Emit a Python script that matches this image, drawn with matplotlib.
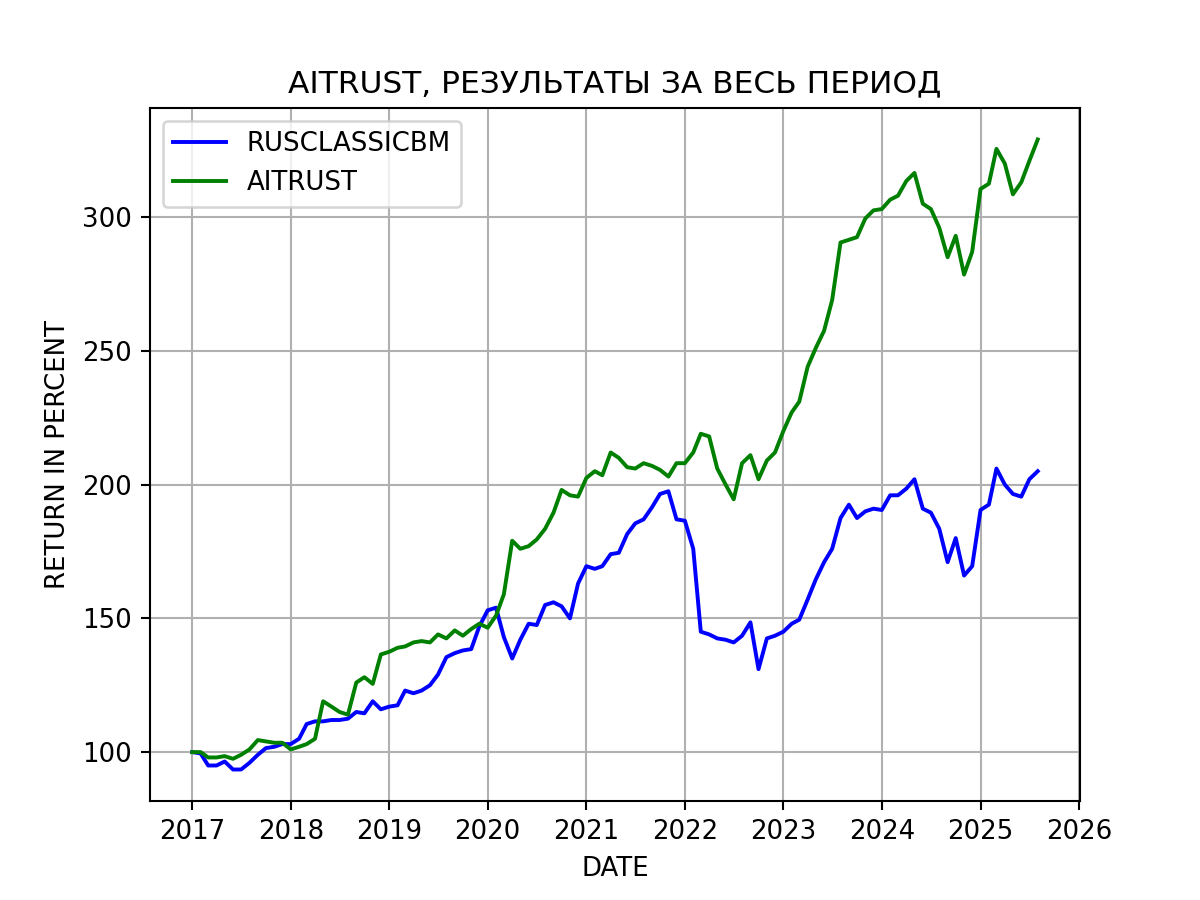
import matplotlib
matplotlib.use("Agg")
import matplotlib.pyplot as plt
import pandas as pd

dates = pd.date_range("2017-01-01", periods=104, freq="MS")

ruclassic = [
    100, 99.5, 95, 95, 96.5, 93.5, 93.5, 96, 99, 101.5, 102, 103,
    103, 105, 110.5, 111.5, 111.5, 112, 112, 112.5, 115, 114.5, 119, 116,
    117, 117.5, 123, 122, 123, 125, 129, 135.5, 137, 138, 138.5, 147,
    153, 154, 143, 135, 142, 148, 147.5, 155, 156, 154.5, 150, 163,
    169.5, 168.5, 169.5, 174, 174.5, 181.5, 185.5, 187, 191.5, 196.5, 197.5, 187,
    186.5, 176, 145, 144, 142.5, 142, 141, 143.5, 148.5, 131, 142.5, 143.5,
    145, 148, 149.5, 157, 164.5, 171, 176, 187.5, 192.5, 187.5, 190, 191,
    190.5, 196, 196, 198.5, 202, 191, 189.5, 183.5, 171, 180, 166, 169.5,
    190.5, 192.5, 206, 200, 196.5, 195.5, 202, 205,
]

aitrust = [
    100, 100, 98, 98, 98.5, 97.5, 99, 101, 104.5, 104, 103.5, 103.5,
    101, 102, 103, 105, 119, 117, 115, 114, 126, 128, 125.5, 136.5,
    137.5, 139, 139.5, 141, 141.5, 141, 144, 142.5, 145.5, 143.5, 146, 148,
    146.5, 151, 159, 179, 176, 177, 179.5, 183.5, 189.5, 198, 196, 195.5,
    202.5, 205, 203.5, 212, 210, 206.5, 206, 208, 207, 205.5, 203, 208,
    208, 212, 219, 218, 206, 200, 194.5, 208, 211, 202, 209, 212,
    220, 227, 231, 244, 251, 257.5, 269, 290.5, 291.5, 292.5, 299.5, 302.5,
    303, 306.5, 308, 313.5, 316.5, 305, 303, 296, 285, 293, 278.5, 287,
    310.5, 312.5, 325.5, 320, 308.5, 313, 321, 329,
]

fig, ax = plt.subplots(figsize=(6.4, 4.8), dpi=187.5)
ax.plot(dates, ruclassic, color="blue", label="RUSCLASSICBM")
ax.plot(dates, aitrust, color="green", label="AITRUST")
ax.set_title("AITRUST, РЕЗУЛЬТАТЫ ЗА ВЕСЬ ПЕРИОД")
ax.set_xlabel("DATE")
ax.set_ylabel("RETURN IN PERCENT")
ax.grid(True)
ax.legend(loc="upper left")
fig.savefig("out.png")
